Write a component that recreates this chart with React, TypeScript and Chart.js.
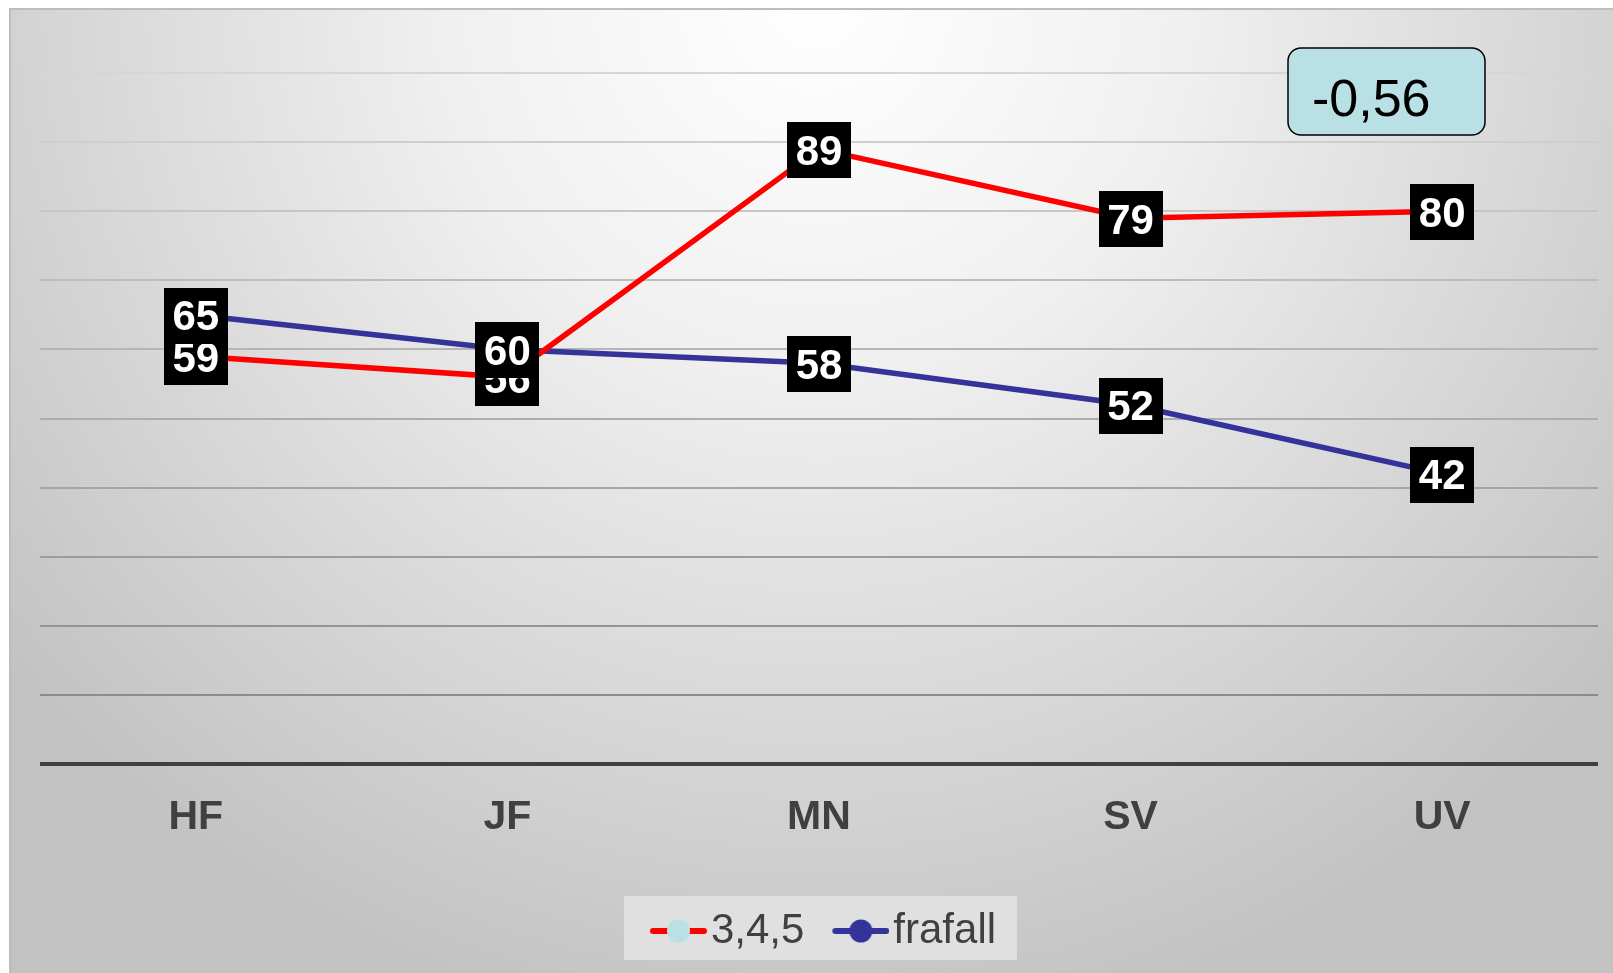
import React, { useEffect, useRef } from "react";
import { Chart, registerables } from "chart.js";

Chart.register(...registerables);

const categories = ["HF", "JF", "MN", "SV", "UV"];
const series345 = [59, 56, 89, 79, 80];
const seriesFrafall = [65, 60, 58, 52, 42];
const seriesNames = ["3,4,5", "frafall"];
const annotationText = "-0,56";
const yMin = 0;
const yMax = 110;
const yStep = 10;

const FONT = '"Liberation Sans", Arial, Helvetica, sans-serif';
const RED = "#ff0000";
const BLUE = "#333399";
const LIGHTBLUE = "#b9e0e4";
const TEXT = "#404040";

function makeLegendIcon(lineColor: string, markerColor: string): HTMLCanvasElement {
  const c = document.createElement("canvas");
  c.width = 74;
  c.height = 30;
  const g = c.getContext("2d")!;
  g.strokeStyle = lineColor;
  g.lineWidth = 6;
  g.lineCap = "round";
  g.beginPath();
  g.moveTo(20, 15);
  g.lineTo(71, 15);
  g.stroke();
  g.fillStyle = markerColor;
  g.beginPath();
  g.arc(45.5, 15, 11.5, 0, Math.PI * 2);
  g.fill();
  return c;
}

const backgroundPlugin = {
  id: "bgPlugin",
  afterLayout(chart: any) {
    const lg = chart.legend;
    if (lg) {
      lg.left += 4;
      lg.right += 4;
    }
  },
  beforeDraw(chart: any) {
    const { ctx, width, height } = chart;
    ctx.save();
    ctx.fillStyle = "#ffffff";
    ctx.fillRect(0, 0, width, height);
    const grad = ctx.createRadialGradient(815, 0, 0, 815, 0, 1050);
    grad.addColorStop(0, "#ffffff");
    grad.addColorStop(0.35, "#f0f0f0");
    grad.addColorStop(1, "#c2c2c2");
    ctx.fillStyle = grad;
    ctx.fillRect(10, 9, width - 10, height - 9);
    ctx.strokeStyle = "#bdbdbd";
    ctx.lineWidth = 2;
    ctx.beginPath();
    ctx.moveTo(10, height);
    ctx.lineTo(10, 9);
    ctx.lineTo(width, 9);
    ctx.stroke();
    // legend background box
    const lg = chart.legend;
    if (lg && lg.lineWidths) {
      const pad = lg.options.labels.padding;
      const startX = (lg.left + pad + lg.right - lg.lineWidths[0]) / 2;
      const top = lg.top + pad;
      ctx.fillStyle = "#e0e0e0";
      ctx.fillRect(startX - 26, top - 14, 393, 64);
    }
    ctx.restore();
  },
};

const labelPlugin = {
  id: "valueLabels",
  afterDatasetsDraw(chart: any) {
    const { ctx } = chart;
    ctx.save();
    ctx.font = `bold 42px ${FONT}`;
    ctx.textAlign = "center";
    ctx.textBaseline = "middle";
    chart.data.datasets.forEach((ds: any, di: number) => {
      const meta = chart.getDatasetMeta(di);
      meta.data.forEach((pt: any, i: number) => {
        const v = ds.data[i];
        ctx.fillStyle = "#000000";
        ctx.fillRect(Math.round(pt.x - 32), Math.round(pt.y - 27), 64, 56);
        ctx.fillStyle = "#ffffff";
        ctx.fillText(String(v), pt.x, pt.y + 4);
      });
    });
    ctx.restore();
  },
};

const annotationPlugin = {
  id: "annotationBox",
  afterDraw(chart: any) {
    const { ctx } = chart;
    ctx.save();
    const x = 1288, y = 48, w = 197, h = 87, r = 13;
    ctx.beginPath();
    ctx.moveTo(x + r, y);
    ctx.arcTo(x + w, y, x + w, y + h, r);
    ctx.arcTo(x + w, y + h, x, y + h, r);
    ctx.arcTo(x, y + h, x, y, r);
    ctx.arcTo(x, y, x + w, y, r);
    ctx.closePath();
    ctx.fillStyle = LIGHTBLUE;
    ctx.fill();
    ctx.strokeStyle = "#000000";
    ctx.lineWidth = 1.5;
    ctx.stroke();
    ctx.fillStyle = "#000000";
    ctx.font = `52px ${FONT}`;
    ctx.textAlign = "left";
    ctx.textBaseline = "alphabetic";
    ctx.fillText(annotationText, 1312, 116);
    ctx.restore();
  },
};

function gridColor(v: number): string {
  if (v === 0) return "#404040";
  if (v >= yMax) return "rgba(0,0,0,0)";
  const t = (v - 10) / 90;
  const g = Math.round(140 + t * (214 - 140));
  return `rgb(${g},${g},${g})`;
}

export default function App() {
  const ref = useRef<HTMLCanvasElement | null>(null);

  useEffect(() => {
    if (!ref.current) return;
    const icons = [makeLegendIcon(RED, LIGHTBLUE), makeLegendIcon(BLUE, BLUE)];
    const chart = new Chart(ref.current, {
      type: "line",
      data: {
        labels: categories,
        datasets: [
          {
            label: seriesNames[0],
            data: series345,
            borderColor: RED,
            backgroundColor: LIGHTBLUE,
            borderWidth: 5.5,
            pointRadius: 0,
            tension: 0,
          },
          {
            label: seriesNames[1],
            data: seriesFrafall,
            borderColor: BLUE,
            backgroundColor: BLUE,
            borderWidth: 5.5,
            pointRadius: 0,
            tension: 0,
          },
        ],
      },
      options: {
        animation: false,
        responsive: false,
        devicePixelRatio: 1,
        events: [],
        layout: { padding: { left: 40, right: 15, top: 4, bottom: 11 } },
        scales: {
          x: {
            type: "category",
            offset: true,
            grid: { display: false },
            border: { display: false },
            ticks: {
              color: TEXT,
              font: { family: FONT, size: 41, weight: "bold" },
              padding: 21,
              maxRotation: 0,
              autoSkip: false,
            },
            afterFit: (s: any) => {
              s.height = 118;
            },
          },
          y: {
            min: yMin,
            max: yMax,
            ticks: { display: false, stepSize: yStep },
            border: { display: false },
            grid: {
              drawTicks: false,
              color: (c: any) => gridColor(c.tick ? c.tick.value : 0),
              lineWidth: (c: any) => (c.tick && c.tick.value === 0 ? 4 : 2),
            },
            afterFit: (s: any) => {
              s.width = 0;
            },
          },
        },
        plugins: {
          tooltip: { enabled: false },
          legend: {
            display: true,
            position: "bottom",
            labels: {
              usePointStyle: true,
              pointStyleWidth: 40,
              padding: 28,
              color: TEXT,
              font: { family: FONT, size: 42 },
              generateLabels: (ch: any) =>
                ch.data.datasets.map((ds: any, i: number) => ({
                  text: ds.label,
                  pointStyle: icons[i],
                  fillStyle: "rgba(0,0,0,0)",
                  strokeStyle: "rgba(0,0,0,0)",
                  lineWidth: 0,
                  fontColor: TEXT,
                  hidden: false,
                  datasetIndex: i,
                })),
            },
          },
        },
      },
      plugins: [backgroundPlugin, labelPlugin, annotationPlugin],
    } as any);
    return () => chart.destroy();
  }, []);

  return (
    <div style={{ position: "fixed", left: 0, top: 0, width: 1613, height: 973, overflow: "hidden" }}>
      <canvas ref={ref} width={1613} height={973} style={{ display: "block" }} />
    </div>
  );
}
